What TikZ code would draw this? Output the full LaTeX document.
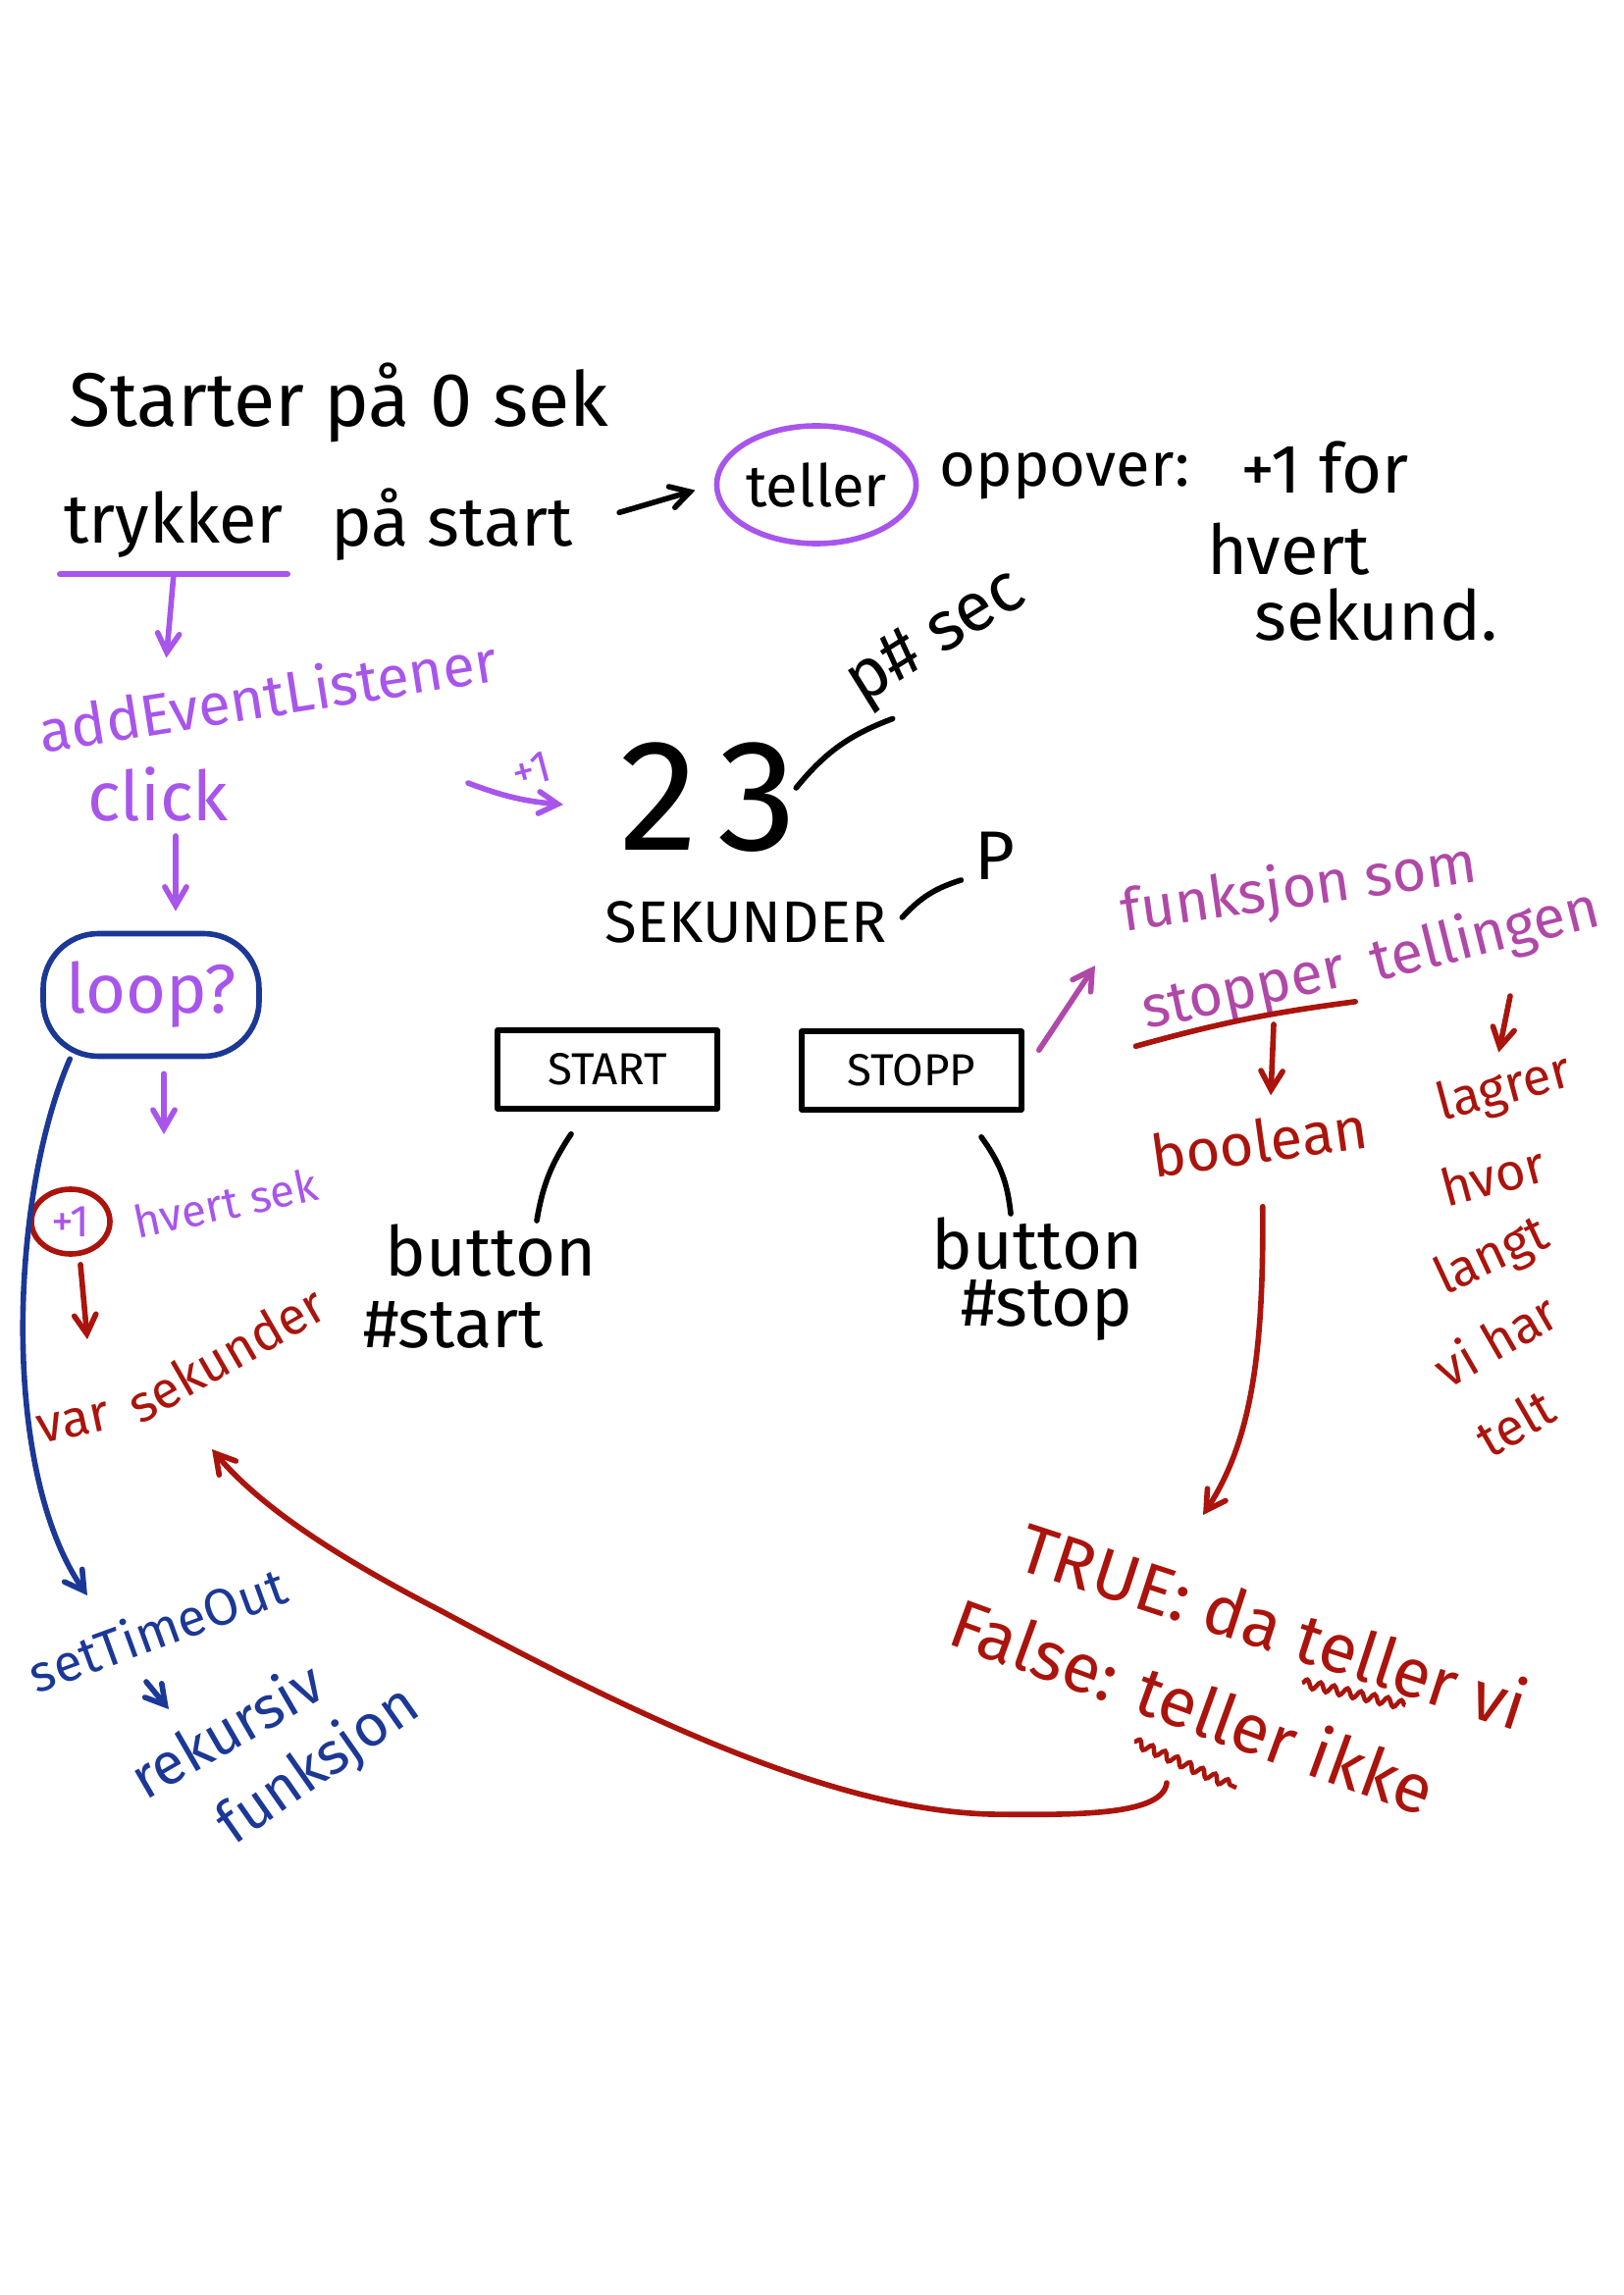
\documentclass[tikz,border=0pt]{standalone}
\usepackage{fontspec}
\setmainfont{Fira Sans}
\usetikzlibrary{arrows,positioning,shapes.geometric,decorations.pathmorphing}
\definecolor{penpurple}{RGB}{168,85,236}
\definecolor{penmagenta}{RGB}{176,72,168}
\definecolor{penred}{RGB}{170,20,12}
\definecolor{penblue}{RGB}{28,56,150}
\tikzstyle{ink}=[
	line width=1.6pt,
	line cap=round,
	line join=round
]
\tikzstyle{pointer}=[
	ink,
	->,
	>=angle 60
]
\tikzstyle{handXL}=[inner sep=1pt, font=\fontsize{46}{50}\selectfont]
\tikzstyle{handL}=[inner sep=1pt, font=\fontsize{20}{24}\selectfont]
\tikzstyle{handM}=[inner sep=1pt, font=\fontsize{17}{20}\selectfont]
\tikzstyle{handR}=[inner sep=1pt, font=\fontsize{15}{18}\selectfont]
\tikzstyle{handS}=[inner sep=1pt, font=\fontsize{13}{15}\selectfont]
\tikzstyle{btn}=[
	rectangle,
	draw,
	ink,
	minimum width=2.24cm,
	minimum height=0.8cm,
	font=\fontsize{13}{15}\selectfont
]

\begin{document}
\begin{tikzpicture}
\useasboundingbox (0,0) rectangle (16.54,-23.39);

% top line
\node [handL, font=\fontsize{22}{26}\selectfont] (Starter) at (3.45,-4.1) {Starter på 0 sek};
\node [handL] (Trykker) at (1.77,-5.35) {trykker};
\node [handL] (PaStart) [right=0.4cm of Trykker] {på start};
\node [handM, ellipse, draw=penpurple, ink, minimum width=1.85cm, minimum height=1.2cm, inner sep=0pt] (Teller) at (8.32,-4.94) {teller};
\node [handL, font=\fontsize{18}{22}\selectfont] (Oppover) at (10.85,-4.85) {oppover:};
\node [handL] (PlusFor) at (13.5,-4.77) {+1 for};
\node [handL] (Hvert) at (13.13,-5.6) {hvert};
\node [handL] (Sekund) at (14.02,-6.27) {sekund.};
\draw [pointer] (PaStart.east) -- (Teller.west) [shorten <=0.45cm, shorten >=0.2cm];

% purple chain on the left
\draw [ink, penpurple] ([yshift=-0.12cm]Trykker.south west) -- ([yshift=-0.12cm]Trykker.south east);
\node [handM, text=penpurple, rotate=9] (AddEvent) at (2.73,-7.08) {addEventListener};
\node [handL, text=penpurple] (Click) at (1.61,-8.1) {click};
\draw [pointer, penpurple] ([yshift=-0.12cm]Trykker.south) -- ([xshift=-1.0cm]AddEvent.north) [shorten >=0.1cm];
\node [handL, draw=penblue, ink, text=penpurple, rounded corners=16pt, minimum width=2.2cm, minimum height=1.25cm] (Loop) at (1.54,-10.14) {loop?};
\draw [pointer, penpurple] ([xshift=0.18cm]Click.south) -- ([xshift=0.25cm]Loop.north) [shorten <=0.1cm, shorten >=0.2cm];

\coordinate (PlusTarget) at (1.67,-11.56);
\draw [pointer, penpurple] ([xshift=0.13cm,yshift=-0.15cm]Loop.south) -- (PlusTarget);
\node [handS, ellipse, draw=penred, ink, text=penpurple, minimum width=0.8cm, minimum height=0.66cm, inner sep=0pt] (PlusOne) at (0.72,-12.45) {+1};
\node [handS, text=penpurple, rotate=12] (HvertSek) at (2.3,-12.26) {hvert sek};
\node [handR, text=penred, rotate=12] (Var) at (0.75,-14.5) {var};
\node [handR, text=penred, rotate=30] (SekunderVar) at (2.3,-13.8) {sekunder};
\coordinate (VarIn) at (0.89,-13.65);
\draw [pointer, penred] ([xshift=0.1cm,yshift=-0.08cm]PlusOne.south) -- (VarIn);

% setTimeOut branch
\coordinate (TimeOutIn) at (0.89,-16.26);
\draw [pointer, penblue] ([xshift=0.3cm]Loop.south west) .. controls (0.1,-12.2) and (0.0,-15.0) .. (TimeOutIn);
\node [handR, text=penblue, rotate=20] (SetTimeOut) at (1.6,-16.6) {setTimeOut};
\node [handM, text=penblue, rotate=30] (Rekursiv) at (2.3,-17.62) {rekursiv};
\node [handM, text=penblue, rotate=35] (Funksjon) at (3.25,-18.0) {funksjon};
\coordinate (ArrowA) at (1.49,-17.14);
\coordinate (ArrowB) at (1.72,-17.42);
\draw [pointer, penblue] (ArrowA) -- (ArrowB);

% counter in the middle
\node [handXL] (Num) at (7.22,-8.13) {2\hspace{0.12em}3};
\node [handL, rotate=32] (PSec) at (9.55,-6.52) {p\# sec};
\draw [ink] ([shift={(-0.05,0.1)}]Num.east) to[bend left=15] ([shift={(0.25,0.05)}]PSec.south west);
\coordinate (PlusFrom) at (4.77,-7.98);
\coordinate (PlusTo) at (5.74,-8.2);
\draw [pointer, penpurple] (PlusFrom) to[bend right=8] node [handS, pos=0.75, above=0.12cm, rotate=15] (PlusLbl) {+1} (PlusTo);
\node [handM] (SekunderLbl) at (7.6,-9.4) {SEKUNDER};
\node [handL] (PTag) at (10.14,-8.72) {P};
\draw [ink] ([shift={(0.12,0.05)}]SekunderLbl.east) to[bend left=15] ([shift={(-0.1,-0.25)}]PTag.west);

% buttons
\node [btn] (StartBtn) at (6.19,-10.9) {START};
\node [btn] (StopBtn) at (9.29,-10.91) {STOPP};
\node [handL] (ButtonA) at (5.0,-12.75) {button};
\node [handL] (HashStart) at (4.62,-13.5) {\#start};
\node [handL] (ButtonB) at (10.57,-12.68) {button};
\node [handL] (HashStop) at (10.67,-13.35) {\#stop};
\draw [ink] ([shift={(-0.37,-0.23)}]StartBtn.south) to[bend right=12] ([xshift=0.47cm]ButtonA.north);
\draw [ink] ([shift={(0.71,-0.25)}]StopBtn.south) to[bend left=15] ([xshift=-0.27cm]ButtonB.north);

% stop function on the right
\coordinate (FunkIn) at (11.16,-9.84);
\draw [pointer, penmagenta] ([shift={(0.15,-0.22)}]StopBtn.north east) -- (FunkIn);
\node [handM, text=penmagenta, rotate=8] (FunksjonSom) at (13.24,-9.07) {funksjon som};
\node [handM, text=penmagenta, rotate=12] (Stopper) at (12.68,-10.14) {stopper};
\node [handM, text=penmagenta, rotate=14] (Tellingen) at (15.14,-9.55) {tellingen};
\draw [ink, penred] ([xshift=-0.1cm]Stopper.south west) to[bend left=4] (Stopper.south east);
\coordinate (StopDown) at (12.98,-10.44);
\node [handM, text=penred, rotate=8] (Boolean) at (12.83,-11.63) {boolean};
\draw [pointer, penred] (StopDown) -- ([xshift=0.15cm]Boolean.north) [shorten >=0.2cm];

\node [handR, text=penred, rotate=15] (Lagrer) at (15.33,-11.11) {lagrer};
\node [handR, text=penred, rotate=15] (Hvor) at (15.21,-11.98) {hvor};
\node [handR, text=penred, rotate=25] (Langt) at (15.21,-12.82) {langt};
\node [handR, text=penred, rotate=30] (ViHar) at (15.24,-13.65) {vi har};
\node [handR, text=penred, rotate=30] (Telt) at (15.44,-14.5) {telt};
\coordinate (LagrerFrom) at (15.39,-10.15);
\draw [pointer, penred] (LagrerFrom) -- (Lagrer.north) [shorten >=0.1cm];

% true / false
\coordinate (TrueIn) at (12.26,-15.44);
\draw [pointer, penred] ([yshift=-0.4cm]Boolean.south) .. controls (12.88,-13.8) and (12.75,-14.7) .. (TrueIn);
\node [handL, text=penred, rotate=-18] (TrueLine) at (12.98,-16.56) {TRUE: da teller vi};
\node [handL, text=penred, rotate=-20] (FalseLine) at (12.16,-17.38) {False: teller ikke};
\draw [penred, line width=1.3pt, decorate, decoration={snake, amplitude=1.2pt, segment length=4pt}] (13.27,-17.15) -- (14.32,-17.38);
\draw [penred, line width=1.3pt, decorate, decoration={snake, amplitude=1.2pt, segment length=4pt}] (11.56,-17.75) -- (12.6,-18.22);

% back to var sekunder
\coordinate (FalseOut) at (11.89,-18.17);
\coordinate (SekIn) at (2.16,-14.77);
\draw [pointer, penred] (FalseOut) .. controls (11.85,-18.5) and (11.0,-18.5) .. (10.1,-18.49)
	.. controls (8.5,-18.45) and (6.5,-17.5) .. (4.5,-16.42)
	.. controls (3.3,-15.8) and (2.6,-15.3) .. (SekIn);
\end{tikzpicture}
\end{document}
